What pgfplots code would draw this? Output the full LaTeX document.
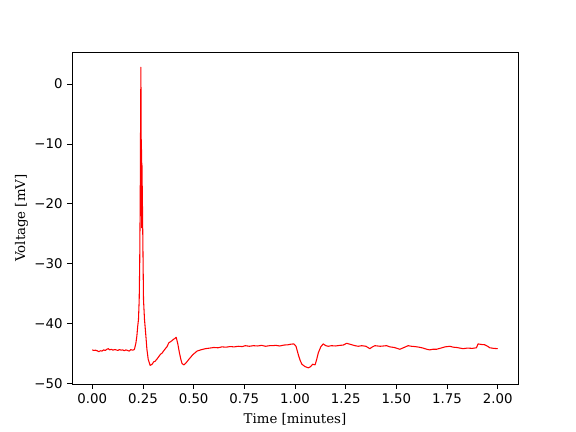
\documentclass[border=0pt]{standalone}
\usepackage{pgfplots}
\pgfplotsset{compat=1.18}
\usepackage{fontspec}
\setmainfont{DejaVu Sans}
\newfontfamily\seriffont{DejaVu Serif}
\pgfplotstableread{
t v
0.000 -44.40
0.008 -44.50
0.016 -44.45
0.024 -44.55
0.032 -44.70
0.040 -44.55
0.048 -44.60
0.056 -44.40
0.064 -44.50
0.072 -44.30
0.079 -44.20
0.086 -44.40
0.094 -44.30
0.102 -44.45
0.110 -44.35
0.118 -44.40
0.126 -44.50
0.134 -44.35
0.142 -44.45
0.150 -44.40
0.158 -44.55
0.166 -44.40
0.174 -44.50
0.182 -44.60
0.190 -44.35
0.198 -44.45
0.204 -44.40
0.208 -44.30
0.215 -43.30
0.220 -42.10
0.224 -40.50
0.228 -39.30
0.2315 -36.00
0.234 -30.00
0.2365 -19.30
0.2385 -5.00
0.2400 2.80
0.2415 -22.00
0.2425 -9.30
0.2440 -24.00
0.2450 -13.20
0.2478 -21.00
0.2527 -36.00
0.2576 -39.30
0.2645 -42.10
0.2695 -44.30
0.2760 -46.00
0.2857 -47.00
0.2950 -46.80
0.3030 -46.40
0.3100 -46.30
0.3200 -45.90
0.3350 -45.20
0.3450 -44.90
0.3580 -44.30
0.3680 -43.90
0.3780 -43.20
0.3880 -43.00
0.3950 -42.80
0.4020 -42.60
0.4080 -42.50
0.4140 -42.30
0.4220 -43.40
0.4300 -44.90
0.4370 -46.00
0.4430 -46.70
0.4520 -46.90
0.4620 -46.60
0.4760 -46.00
0.4960 -45.20
0.5170 -44.60
0.5350 -44.40
0.5580 -44.20
0.5800 -44.10
0.6000 -44.00
0.6200 -44.05
0.6400 -43.90
0.6600 -43.95
0.6800 -43.85
0.7000 -43.90
0.7200 -43.80
0.7400 -43.85
0.7550 -43.70
0.7750 -43.80
0.7950 -43.70
0.8150 -43.75
0.8350 -43.65
0.8550 -43.80
0.8750 -43.70
0.8870 -43.70
0.9050 -43.65
0.9250 -43.75
0.9450 -43.60
0.9650 -43.55
0.9800 -43.45
0.9940 -43.40
1.0050 -43.80
1.0180 -45.40
1.0260 -46.20
1.0340 -46.80
1.0500 -47.20
1.0660 -47.40
1.0770 -47.20
1.0870 -46.80
1.0990 -46.90
1.1070 -46.00
1.1150 -44.90
1.1270 -43.90
1.1390 -43.40
1.1520 -43.70
1.1640 -43.80
1.1800 -43.70
1.2000 -43.75
1.2200 -43.65
1.2380 -43.60
1.2550 -43.30
1.2750 -43.50
1.2960 -43.70
1.3120 -43.80
1.3290 -43.70
1.3500 -43.80
1.3690 -44.20
1.3820 -43.90
1.3940 -43.70
1.4200 -43.80
1.4520 -43.70
1.4680 -43.90
1.4900 -44.00
1.5170 -44.30
1.5380 -44.00
1.5580 -43.70
1.5750 -43.80
1.5910 -43.85
1.6120 -43.95
1.6320 -44.10
1.6500 -44.30
1.6650 -44.40
1.6800 -44.30
1.6980 -44.30
1.7200 -44.10
1.7400 -43.90
1.7640 -43.80
1.7800 -43.95
1.7970 -44.00
1.8130 -44.10
1.8290 -44.20
1.8500 -44.10
1.8750 -44.15
1.8950 -44.05
1.9030 -43.40
1.9200 -43.50
1.9360 -43.55
1.9500 -43.80
1.9610 -44.05
1.9800 -44.15
2.0000 -44.20
}\trace
\begin{document}
\begin{tikzpicture}
\path[use as bounding box] (-54pt,-36pt) rectangle (378pt,288pt);
\begin{axis}[
  at={(0pt,0pt)}, anchor=south west,
  scale only axis, width=334.5pt, height=249pt,
  xmin=-0.1, xmax=2.1, ymin=-50.1, ymax=5.35,
  xtick={0,0.25,0.5,0.75,1,1.25,1.5,1.75,2},
  xticklabels={0.00,0.25,0.50,0.75,1.00,1.25,1.50,1.75,2.00},
  ytick={-50,-40,-30,-20,-10,0},
  yticklabels={−50,−40,−30,−20,−10,0},
  xtick pos=bottom, ytick pos=left,
  tick align=outside, major tick length=3.5pt,
  tick style={black, line width=0.6pt},
  axis line style={line width=0.6pt},
  ticklabel style={font=\fontsize{10}{12}\selectfont},
  xticklabel style={yshift=-0.5pt},
  xlabel={\seriffont Time [minutes]},
  ylabel={\seriffont Voltage [mV]},
  label style={font=\fontsize{10}{12}\selectfont},
  ylabel style={yshift=-2pt},
]
\addplot[red, line width=0.8pt, line join=round] table[x=t, y=v] {\trace};
\end{axis}
\end{tikzpicture}
\end{document}
